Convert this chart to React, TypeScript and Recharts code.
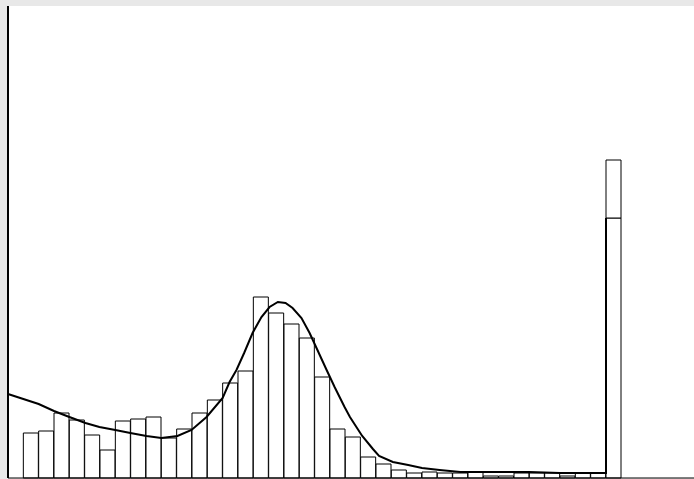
import React from 'react';
import { ComposedChart, Bar, Line, XAxis, YAxis, CartesianGrid } from 'recharts';

// histogram: 45 bins, the last non-empty one (bin 39) is split in two parts
const binIndex = Array.from({ length: 45 }, (_, i) => i);
const binCounts = [
  0, 45, 47, 65, 58, 43, 28, 57, 59, 61,
  40, 49, 65, 78, 95, 107, 181, 165, 154, 140,
  101, 49, 41, 21, 14, 8, 5, 6, 5, 5,
  6, 2, 2, 5, 5, 5, 2, 5, 5, 260,
  0, 0, 0, 0, 0,
];
const binExtra = binIndex.map((i) => (i === 39 ? 58 : 0));

// smoothed density curve, x measured in bins
const curveX = [
  0, 1, 2, 3, 4, 5.05, 5.96, 7, 7.98, 9.03,
  10, 11.05, 11.97, 12.95, 14, 14.45, 14.9, 15.4, 15.95, 16.53,
  17.06, 17.6, 18.1, 18.56, 19.14, 19.67, 20.12, 20.78, 21.3, 21.95,
  22.3, 23.1, 23.8, 24.2, 25.1, 26.1, 27, 28.15, 29.5, 30.8,
  34, 36, 38.7, 39, 39,
];
const curveY = [
  84, 79, 74, 67, 61, 55, 51, 48, 45, 42,
  40, 42, 48, 61, 80, 96, 108, 125, 145, 161,
  171, 176, 175, 170, 160, 145, 130, 108, 91, 71,
  61, 42, 29, 22, 16, 13, 10, 8, 6, 6,
  6, 5, 5, 5, 260,
];

const barData = binIndex.map((i) => ({ bin: i, count: binCounts[i], extra: binExtra[i] }));
const curveData = curveX.map((x, i) => ({ x, y: curveY[i] }));

const App: React.FC = () => {
  return (
    <div style={{ position: 'absolute', left: 0, top: 0, width: 694, height: 479, background: '#e8e8e8' }}>
      <ComposedChart
        width={694}
        height={479}
        data={barData}
        margin={{ top: 6, right: -4, left: 7, bottom: 0 }}
        barCategoryGap={0}
        barGap={0}
      >
        <CartesianGrid horizontal={false} vertical={false} fill="#ffffff" />
        <XAxis dataKey="bin" height={1} tick={false} tickLine={false} axisLine={{ stroke: '#000' }} />
        <XAxis xAxisId="curve" type="number" dataKey="x" domain={[0, 45]} hide />
        <YAxis width={1} domain={[0, 472]} tick={false} tickLine={false} axisLine={{ stroke: '#000', strokeWidth: 2 }} />
        <Bar dataKey="count" stackId="h" fill="#fff" stroke="#000" strokeWidth={1} isAnimationActive={false} />
        <Bar dataKey="extra" stackId="h" fill="#fff" stroke="#000" strokeWidth={1} isAnimationActive={false} />
        <Line
          xAxisId="curve"
          data={curveData}
          dataKey="y"
          type="linear"
          stroke="#000"
          strokeWidth={2}
          dot={false}
          isAnimationActive={false}
        />
      </ComposedChart>
    </div>
  );
};

export default App;
